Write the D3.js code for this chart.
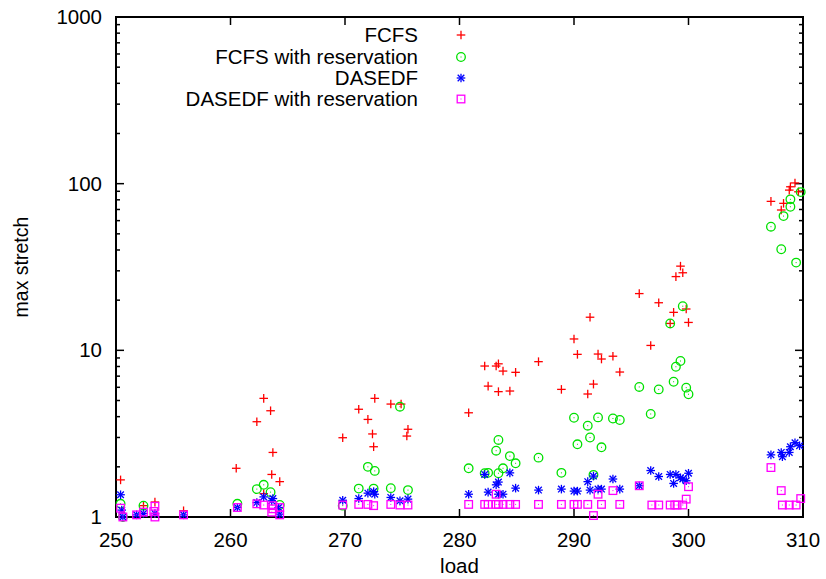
<!DOCTYPE html>
<html>
<head>
<meta charset="utf-8">
<script src="https://cdn.jsdelivr.net/npm/d3@7"></script>
<style>
  body { margin: 0; background: #fff; }
  svg { display: block; font-family: "Liberation Sans", Arial, sans-serif; }
</style>
</head>
<body>
<svg id="chart" width="826" height="579"></svg>
<script>
// [load, max stretch] pairs
const fcfs = [
  [250.4,1.67],[252.4,1.17],[253.4,1.23],[255.9,1.09],[260.5,1.96],[262.3,3.73],[262.9,5.15],
  [262.9,1.38],[263.5,4.34],[263.7,2.44],[263.6,1.80],[264.3,1.63],
  [269.8,2.99],[271.2,4.43],[272.0,3.85],[272.4,3.15],[272.5,2.64],[272.6,5.15],[274.0,4.76],
  [274.9,4.76],[275.5,3.36],[275.4,3.06],
  [280.8,4.22],[282.2,8.05],[282.5,6.1],[283.2,8.05],[283.4,8.3],[283.4,5.65],[283.8,7.51],
  [284.4,5.7],[284.9,7.38],[286.9,8.55],[288.9,5.83],[290.0,11.7],[290.3,9.46],[291.2,5.47],
  [291.4,15.8],[291.7,6.27],[292.1,9.5],[292.4,8.87],[293.4,9.22],[294.0,7.41],
  [295.7,21.9],[296.7,10.7],[297.4,19.3],[298.4,14.5],[298.7,16.9],[298.9,27.7],[299.3,32],
  [299.5,29.2],[299.8,17.7],[300.0,14.7],
  [307.2,78.3],[308.1,69.5],[308.3,76.2],[308.8,91.5],[308.9,95.8],[309.3,101],[309.6,89.4]
];
const fcfsRes = [
  [250.4,1.2],[250.6,1.0],[252.4,1.17],[260.6,1.2],[262.3,1.47],[262.9,1.56],[263.5,1.41],[264.3,1.18],
  [269.8,1.17],[271.2,1.48],[272.0,2.0],[272.6,1.89],[272.5,1.48],[274.0,1.49],[274.8,4.59],[275.5,1.45],
  [280.8,1.96],[282.2,1.83],[282.5,1.84],[283.2,2.5],[283.4,2.9],[283.4,1.83],[283.8,1.96],[284.4,2.32],
  [284.9,2.1],[286.9,2.27],[288.9,1.84],[290.0,3.94],[290.3,2.73],[291.2,3.53],[291.4,3.0],[291.7,1.79],
  [292.1,3.96],[292.4,2.62],[293.4,3.9],[294.0,3.82],
  [295.7,6.03],[296.7,4.15],[297.4,5.83],[298.4,14.5],[298.7,6.48],[298.9,7.97],[299.3,8.63],
  [299.5,18.4],[299.8,5.97],[300.0,5.45],
  [307.2,55.2],[308.1,40.4],[308.3,63.9],[308.9,72.7],[308.9,80.5],[309.4,33.6],[309.8,89]
];
const dasedf = [
  [250.4,1.36],[250.5,1.1],[250.6,1.0],[251.8,1.03],[252.4,1.05],[253.4,1.05],[255.9,1.03],
  [260.6,1.14],[262.3,1.22],[262.9,1.32],[263.6,1.25],[263.7,1.29],[264.2,1.14],[264.3,1.04],
  [269.8,1.26],[271.2,1.29],[272.0,1.39],[272.5,1.42],[272.6,1.37],[274.0,1.31],[274.8,1.25],[275.5,1.28],
  [280.8,1.37],[282.2,1.80],[282.5,1.41],[283.2,1.56],[283.4,1.62],[283.4,1.37],[283.8,1.37],[284.4,1.84],
  [284.9,1.49],[286.9,1.45],[288.9,1.47],[290.0,1.43],[290.3,1.43],[291.2,1.63],[291.4,1.45],[291.7,1.76],
  [292.1,1.47],[292.4,1.47],[293.4,1.69],[294.0,1.47],
  [295.7,1.54],[296.7,1.9],[297.4,1.75],[298.4,1.80],[298.7,1.59],[298.9,1.80],[299.3,1.72],
  [299.5,1.69],[299.8,1.65],[300.0,1.83],
  [307.2,2.36],[308.1,2.44],[308.2,2.30],[308.8,2.44],[308.9,2.64],[309.3,2.79],[309.7,2.68]
];
const dasedfRes = [
  [250.4,1.13],[250.6,1.0],[251.8,1.03],[252.4,1.07],[253.4,1.16],[253.4,1.0],[253.3,1.08],[255.9,1.03],
  [260.6,1.14],[262.3,1.2],[262.9,1.18],[263.6,1.07],[263.7,1.17],[263.7,1.12],[264.3,1.14],[264.3,1.03],
  [269.8,1.18],[271.2,1.19],[272.0,1.19],[272.5,1.17],[274.0,1.19],[274.8,1.18],[275.5,1.18],
  [280.8,1.19],[282.2,1.19],[282.5,1.19],[283.2,1.19],[283.4,1.19],[283.8,1.19],[284.4,1.19],[284.9,1.19],
  [283.2,1.37],[286.9,1.19],[288.9,1.19],[290.0,1.19],[290.3,1.19],[291.2,1.19],[291.7,1.02],[292.1,1.37],
  [292.4,1.19],[293.4,1.44],[294.0,1.19],
  [295.7,1.54],[296.8,1.18],[297.4,1.18],[298.4,1.18],[298.8,1.18],[299.0,1.18],[299.5,1.18],
  [299.8,1.28],[300.0,1.52],
  [307.2,1.98],[308.1,1.44],[308.2,1.18],[308.8,1.18],[309.4,1.18],[309.8,1.29]
];

const xTicks = [250, 260, 270, 280, 290, 300, 310];
const yTicks = [1, 10, 100, 1000];
const seriesNames = ["FCFS", "FCFS with reservation", "DASEDF", "DASEDF with reservation"];
const seriesColors = ["#ff0000", "#00e000", "#0000ff", "#ff00ff"];
const seriesShapes = ["plus", "circle", "star", "square"];

const svg = d3.select("#chart");
const m = { left: 116, right: 803, top: 17, bottom: 517 };
const fontSize = 20.5;

const x = d3.scaleLinear().domain([250, 310]).range([m.left, m.right]);
const y = d3.scaleLog().domain([1, 1000]).range([m.bottom, m.top]);

// minor ticks on the log axis
const minorY = [];
[1, 10, 100].forEach(d => { for (let k = 2; k <= 9; k++) minorY.push(d * k); });

const ticks = svg.append("g").attr("stroke", "#000").attr("stroke-width", 1.5);
xTicks.forEach(t => {
  ticks.append("line").attr("x1", x(t)).attr("x2", x(t)).attr("y1", m.bottom).attr("y2", m.bottom - 8);
  ticks.append("line").attr("x1", x(t)).attr("x2", x(t)).attr("y1", m.top).attr("y2", m.top + 8);
});
yTicks.forEach(t => {
  ticks.append("line").attr("x1", m.left).attr("x2", m.left + 8).attr("y1", y(t)).attr("y2", y(t));
  ticks.append("line").attr("x1", m.right).attr("x2", m.right - 8).attr("y1", y(t)).attr("y2", y(t));
});
minorY.forEach(t => {
  ticks.append("line").attr("x1", m.left).attr("x2", m.left + 4).attr("y1", y(t)).attr("y2", y(t));
  ticks.append("line").attr("x1", m.right).attr("x2", m.right - 4).attr("y1", y(t)).attr("y2", y(t));
});

svg.append("rect")
  .attr("x", m.left).attr("y", m.top)
  .attr("width", m.right - m.left).attr("height", m.bottom - m.top)
  .attr("fill", "none").attr("stroke", "#000").attr("stroke-width", 2);

svg.append("g").selectAll("text")
  .data(xTicks)
  .enter().append("text")
  .attr("x", d => x(d)).attr("y", 547)
  .attr("text-anchor", "middle").attr("font-size", fontSize).attr("fill", "#000")
  .text(d => d);

svg.append("g").selectAll("text")
  .data(yTicks)
  .enter().append("text")
  .attr("x", 102).attr("y", d => y(d) + 7)
  .attr("text-anchor", "end").attr("font-size", fontSize).attr("fill", "#000")
  .text(d => d);

svg.append("text")
  .attr("x", (m.left + m.right) / 2).attr("y", 573)
  .attr("text-anchor", "middle").attr("font-size", fontSize).attr("fill", "#000")
  .text("load");

svg.append("text")
  .attr("transform", "translate(28," + (m.top + m.bottom) / 2 + ") rotate(-90)")
  .attr("text-anchor", "middle").attr("font-size", fontSize - 1).attr("fill", "#000")
  .text("max stretch");

function drawMarker(g, shape, color, cx, cy) {
  const s = 4.3;
  const p = g.append("g").attr("transform", `translate(${cx},${cy})`)
    .attr("stroke", color).attr("stroke-width", 1.3).attr("fill", "none");
  if (shape === "plus" || shape === "star") {
    p.append("line").attr("x1", -s).attr("x2", s);
    p.append("line").attr("y1", -s).attr("y2", s);
  }
  if (shape === "star") {
    p.append("line").attr("x1", -s + 1).attr("y1", -s + 1).attr("x2", s - 1).attr("y2", s - 1);
    p.append("line").attr("x1", -s + 1).attr("y1", s - 1).attr("x2", s - 1).attr("y2", -s + 1);
  }
  if (shape === "circle") {
    p.append("circle").attr("r", s);
    p.append("rect").attr("x", -0.5).attr("y", -0.5).attr("width", 1).attr("height", 1)
      .attr("fill", color).attr("stroke", "none");
  }
  if (shape === "square") {
    p.append("rect").attr("x", -s + 0.5).attr("y", -s + 0.5).attr("width", 2 * s - 1).attr("height", 2 * s - 1);
    p.append("rect").attr("x", -0.5).attr("y", -0.5).attr("width", 1).attr("height", 1)
      .attr("fill", color).attr("stroke", "none");
  }
}

const allSeries = [fcfs, fcfsRes, dasedf, dasedfRes];
allSeries.forEach((data, i) => {
  const g = svg.append("g");
  data.forEach(d => drawMarker(g, seriesShapes[i], seriesColors[i], x(d[0]), y(d[1])));
});

// legend
const legendY = [35, 57, 78, 99];
seriesNames.forEach((name, i) => {
  svg.append("text")
    .attr("x", 418).attr("y", legendY[i] + 7)
    .attr("text-anchor", "end").attr("font-size", fontSize).attr("fill", "#000")
    .text(name);
  drawMarker(svg, seriesShapes[i], seriesColors[i], 461, legendY[i]);
});
</script>
</body>
</html>
